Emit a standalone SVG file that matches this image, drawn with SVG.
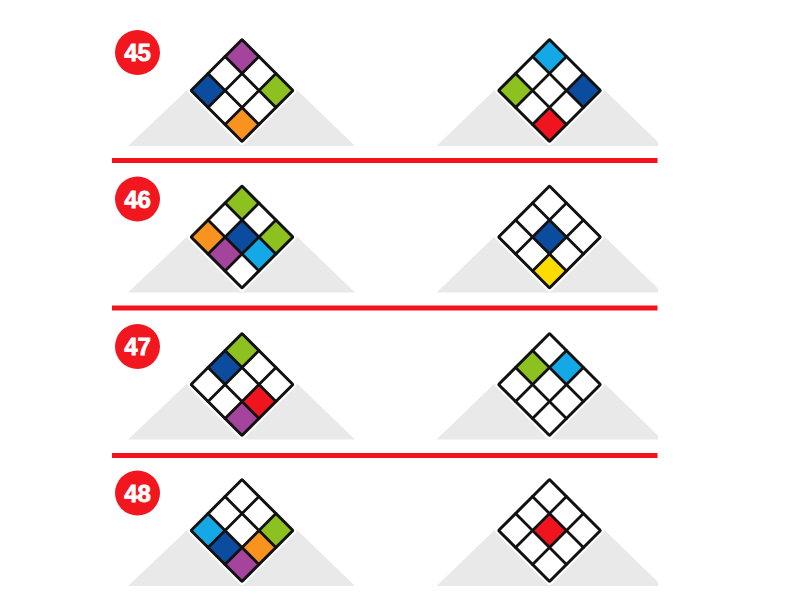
<svg xmlns="http://www.w3.org/2000/svg" xmlns:xlink="http://www.w3.org/1999/xlink" width="794" height="614" viewBox="0 0 794 614">
  <style>
    .bgc { fill: #ffffff; }
    .hill { fill: #e9e9e9; }
    .div { stroke: #f5121b; stroke-width: 5; }
    .badge { fill: #f2161f; }
    .num { fill: #ffffff; stroke: #ffffff; stroke-width: 0.8; font-family: "Liberation Sans", Arial, sans-serif; font-weight: bold; font-size: 24px; text-anchor: middle; }
    .gl { stroke: #111111; stroke-width: 2.8; fill: none; stroke-linecap: round; }
    .go { stroke: #111111; stroke-width: 3; fill: none; stroke-linejoin: round; }
    .pu { fill: #a4449c; }
    .nv { fill: #0b4c9f; }
    .gr { fill: #8dc11f; }
    .or { fill: #f7931e; }
    .cy { fill: #15a8e6; }
    .rd { fill: #f0141e; }
    .ye { fill: #ffdc00; }
  </style>
  <defs>
    <rect id="base" x="-36" y="-36" width="72" height="72" fill="#ffffff" stroke="#ffffff" stroke-width="7" stroke-linejoin="round"/>
    <g id="lines">
      <line class="gl" x1="-12" y1="-36" x2="-12" y2="36"/>
      <line class="gl" x1="12" y1="-36" x2="12" y2="36"/>
      <line class="gl" x1="-36" y1="-12" x2="36" y2="-12"/>
      <line class="gl" x1="-36" y1="12" x2="36" y2="12"/>
      <rect class="go" x="-36" y="-36" width="72" height="72" rx="1"/>
    </g>
  </defs>
  <rect class="bgc" x="0" y="0" width="794" height="614"/>

  <!-- hills -->
  <g id="hills">
    <polygon class="hill" points="128,146 186,91 242,50 298,91 355,146"/>
    <polygon class="hill" points="436.5,146 493.5,91 549.5,50 605.5,91 658,142 658,146"/>
    <polygon class="hill" points="128,292.5 186,237.5 242,196.5 298,237.5 355,292.5"/>
    <polygon class="hill" points="436.5,292.5 493.5,237.5 549.5,196.5 605.5,237.5 658,288.5 658,292.5"/>
    <polygon class="hill" points="128,439.5 186,384.5 242,343.5 298,384.5 355,439.5"/>
    <polygon class="hill" points="436.5,439.5 493.5,384.5 549.5,343.5 605.5,384.5 658,435.5 658,439.5"/>
    <polygon class="hill" points="128,586 186,531 242,490 298,531 355,586"/>
    <polygon class="hill" points="436.5,586 493.5,531 549.5,490 605.5,531 658,582 658,586"/>
  </g>

  <!-- dividers -->
  <g id="connectors">
    <line class="div" x1="112" y1="160.5" x2="657.5" y2="160.5"/>
    <line class="div" x1="112" y1="308" x2="657.5" y2="308"/>
    <line class="div" x1="112" y1="455.5" x2="657.5" y2="455.5"/>
  </g>

  <!-- badges -->
  <g id="badge45"><circle class="badge" cx="137.5" cy="52.5" r="22.5"/><text class="num" x="137.5" y="61">45</text></g>
  <g id="badge46"><circle class="badge" cx="137.5" cy="199" r="22.5"/><text class="num" x="137.5" y="207.5">46</text></g>
  <g id="badge47"><circle class="badge" cx="137.5" cy="346.5" r="22.5"/><text class="num" x="137.5" y="355">47</text></g>
  <g id="badge48"><circle class="badge" cx="137.5" cy="493" r="22.5"/><text class="num" x="137.5" y="501.5">48</text></g>

  <!-- puzzle 45 left -->
  <g id="p45a" transform="translate(242,90.5) rotate(45)">
    <use xlink:href="#base"/>
    <rect class="pu" x="-36" y="-36" width="24" height="24"/>
    <rect class="nv" x="-36" y="12" width="24" height="24"/>
    <rect class="gr" x="12" y="-36" width="24" height="24"/>
    <rect class="or" x="12" y="12" width="24" height="24"/>
    <use xlink:href="#lines"/>
  </g>
  <!-- puzzle 45 right -->
  <g id="p45b" transform="translate(549.5,90.5) rotate(45)">
    <use xlink:href="#base"/>
    <rect class="cy" x="-36" y="-36" width="24" height="24"/>
    <rect class="gr" x="-36" y="12" width="24" height="24"/>
    <rect class="nv" x="12" y="-36" width="24" height="24"/>
    <rect class="rd" x="12" y="12" width="24" height="24"/>
    <use xlink:href="#lines"/>
  </g>

  <!-- puzzle 46 left -->
  <g id="p46a" transform="translate(242,237) rotate(45)">
    <use xlink:href="#base"/>
    <rect class="gr" x="-36" y="-36" width="24" height="24"/>
    <rect class="or" x="-36" y="12" width="24" height="24"/>
    <rect class="nv" x="-12" y="-12" width="24" height="24"/>
    <rect class="gr" x="12" y="-36" width="24" height="24"/>
    <rect class="pu" x="-12" y="12" width="24" height="24"/>
    <rect class="cy" x="12" y="-12" width="24" height="24"/>
    <use xlink:href="#lines"/>
  </g>
  <!-- puzzle 46 right -->
  <g id="p46b" transform="translate(549.5,237) rotate(45)">
    <use xlink:href="#base"/>
    <rect class="nv" x="-12" y="-12" width="24" height="24"/>
    <rect class="ye" x="12" y="12" width="24" height="24"/>
    <use xlink:href="#lines"/>
  </g>

  <!-- puzzle 47 left -->
  <g id="p47a" transform="translate(242,384.5) rotate(45)">
    <use xlink:href="#base"/>
    <rect class="gr" x="-36" y="-36" width="24" height="24"/>
    <rect class="nv" x="-36" y="-12" width="24" height="24"/>
    <rect class="rd" x="12" y="-12" width="24" height="24"/>
    <rect class="pu" x="12" y="12" width="24" height="24"/>
    <use xlink:href="#lines"/>
  </g>
  <!-- puzzle 47 right -->
  <g id="p47b" transform="translate(549.5,384.5) rotate(45)">
    <use xlink:href="#base"/>
    <rect class="gr" x="-36" y="-12" width="24" height="24"/>
    <rect class="cy" x="-12" y="-36" width="24" height="24"/>
    <use xlink:href="#lines"/>
  </g>

  <!-- puzzle 48 left -->
  <g id="p48a" transform="translate(242,530.5) rotate(45)">
    <use xlink:href="#base"/>
    <rect class="cy" x="-36" y="12" width="24" height="24"/>
    <rect class="gr" x="12" y="-36" width="24" height="24"/>
    <rect class="nv" x="-12" y="12" width="24" height="24"/>
    <rect class="or" x="12" y="-12" width="24" height="24"/>
    <rect class="pu" x="12" y="12" width="24" height="24"/>
    <use xlink:href="#lines"/>
  </g>
  <!-- puzzle 48 right -->
  <g id="p48b" transform="translate(549.5,530.5) rotate(45)">
    <use xlink:href="#base"/>
    <rect class="rd" x="-12" y="-12" width="24" height="24"/>
    <use xlink:href="#lines"/>
  </g>
</svg>
